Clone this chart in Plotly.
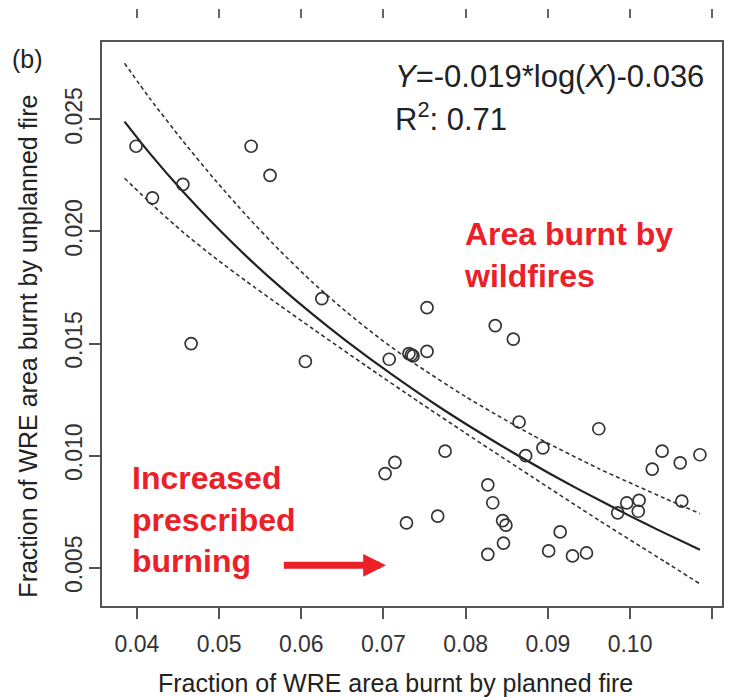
import plotly.graph_objects as go

# ---- data ----
obs_x = [0.0399, 0.0419, 0.0456, 0.0466, 0.0539, 0.0562, 0.0605, 0.0625, 0.0702, 0.0707,
         0.0714, 0.0728, 0.0731, 0.0734, 0.0736, 0.0753, 0.0753, 0.0766, 0.0775, 0.0827,
         0.0827, 0.0833, 0.0836, 0.0845, 0.0846, 0.0849, 0.0858, 0.0865, 0.0873, 0.0894,
         0.0901, 0.0915, 0.0930, 0.0947, 0.0962, 0.0985, 0.0996, 0.1010, 0.1011, 0.1027,
         0.1039, 0.1061, 0.1063, 0.1085]
obs_y = [0.0238, 0.0215, 0.0221, 0.0150, 0.0238, 0.0225, 0.0142, 0.0170, 0.0092, 0.0143,
         0.0097, 0.0070, 0.01455, 0.0145, 0.01445, 0.01465, 0.0166, 0.0073, 0.0102, 0.0087,
         0.0056, 0.0079, 0.0158, 0.0071, 0.0061, 0.0069, 0.0152, 0.0115, 0.0100, 0.01035,
         0.00575, 0.0066, 0.00553, 0.00566, 0.0112, 0.00745, 0.00789, 0.00752, 0.00801, 0.0094,
         0.0102, 0.00968, 0.00797, 0.01004]

fit_x = [0.0385, 0.0416, 0.0456, 0.0491, 0.0533, 0.0574, 0.0614, 0.0655, 0.0711, 0.0768,
         0.0840, 0.0901, 0.0941, 0.1002, 0.1034, 0.1085]
fit_y = [0.0249, 0.02347, 0.02178, 0.02042, 0.0189, 0.01754, 0.0163, 0.01511, 0.0136, 0.01217,
         0.01052, 0.00923, 0.00843, 0.00727, 0.00669, 0.0058]

upper_x = [0.0385, 0.0416, 0.0456, 0.0495, 0.0535, 0.0574, 0.0614, 0.0655, 0.0695, 0.0735,
           0.0800, 0.0881, 0.0962, 0.1042, 0.1085]
upper_y = [0.0275, 0.02592, 0.02403, 0.0223, 0.02064, 0.01914, 0.01772, 0.01641, 0.01524, 0.01418,
           0.01263, 0.01092, 0.00942, 0.0081, 0.00742]

lower_x = [0.0385, 0.0420, 0.0455, 0.0494, 0.0533, 0.0574, 0.0614, 0.0679, 0.0743, 0.0800,
           0.0881, 0.0962, 0.1042, 0.1085]
lower_y = [0.02237, 0.02115, 0.0200, 0.01885, 0.01778, 0.0167, 0.01566, 0.0140, 0.0124, 0.0110,
           0.00905, 0.00712, 0.00528, 0.00428]

x_ticks = [0.04, 0.05, 0.06, 0.07, 0.08, 0.09, 0.10, 0.11]
x_ticktext = ["0.04", "0.05", "0.06", "0.07", "0.08", "0.09", "0.10", "0.11"]
y_ticks = [0.005, 0.010, 0.015, 0.020, 0.025]
y_ticktext = ["0.005", "0.010", "0.015", "0.020", "0.025"]

arrow_tail = (0.0577, 0.00511)
arrow_tip = (0.0703, 0.00511)

FONT = "Liberation Sans, Arial, sans-serif"
RED = "#ea2128"
AX = "#555555"

fig = go.Figure()
dash = "4px,3px"
fig.add_trace(go.Scatter(x=upper_x, y=upper_y, mode="lines", line=dict(color="#333", width=1.6, dash=dash, shape="spline", smoothing=0.6), hoverinfo="skip"))
fig.add_trace(go.Scatter(x=lower_x, y=lower_y, mode="lines", line=dict(color="#333", width=1.6, dash=dash, shape="spline", smoothing=0.6), hoverinfo="skip"))
fig.add_trace(go.Scatter(x=fit_x, y=fit_y, mode="lines", line=dict(color="#222", width=2.2, shape="spline", smoothing=0.6), hoverinfo="skip"))
fig.add_trace(go.Scatter(x=obs_x, y=obs_y, mode="markers",
                         marker=dict(symbol="circle-open", size=12, color="#333", line=dict(width=1.7))))
# invisible trace so the top (partial) tick row is drawn
fig.add_trace(go.Scatter(x=[x_ticks[0]], y=[y_ticks[0]], xaxis="x2", mode="markers", marker=dict(opacity=0), hoverinfo="skip"))

x_range = [0.035758, 0.111188]
y_range = [0.003295, 0.028446]

fig.update_layout(
    width=732, height=697,
    margin=dict(l=101.7, r=8, t=18.3, b=91.3),
    paper_bgcolor="white", plot_bgcolor="white",
    showlegend=False,
    font=dict(family=FONT, color="#333"),
    xaxis=dict(range=x_range, tickvals=x_ticks, ticktext=x_ticktext, ticks="outside", ticklen=11,
               tickwidth=1.5, tickcolor=AX, showline=True, linecolor=AX, linewidth=1.5, mirror=True,
               showgrid=False, zeroline=False, tickfont=dict(size=23, color="#333"), anchor="y",
               ticklabelstandoff=6),
    xaxis2=dict(range=x_range, tickvals=x_ticks, overlaying="x", side="top", anchor="free", position=1,
                ticks="outside", ticklen=9, tickwidth=1.5, tickcolor="#666", showline=False,
                showticklabels=False, showgrid=False, zeroline=False),
    yaxis=dict(range=y_range, domain=[0, 0.9591], tickvals=y_ticks, ticktext=y_ticktext, ticks="outside",
               ticklen=11, tickwidth=1.5, tickcolor=AX, showline=True, linecolor=AX, linewidth=1.5,
               mirror=True, showgrid=False, zeroline=False, tickangle=-90,
               tickfont=dict(size=23, color="#333"), ticklabelstandoff=-2),
)

ann = [
    dict(text="Fraction of WRE area burnt by planned fire", x=0.474, y=-0.1316, xref="paper", yref="paper",
         showarrow=False, font=dict(size=25, color="#222"), xanchor="center", yanchor="middle"),
    dict(text="Fraction of WRE area burnt by unplanned fire", x=-0.12, y=(605.7 - 346) / 587.4,
         xref="paper", yref="paper",
         showarrow=False, textangle=-90, font=dict(size=25, color="#222"), xanchor="center", yanchor="middle"),
    dict(text="(b)", x=(27 - 101.7) / 622.3, y=(605.7 - 59) / 587.4, xref="paper", yref="paper",
         showarrow=False, font=dict(size=25, color="#222"), xanchor="center", yanchor="middle"),
    dict(text="<i>Y</i>=-0.019*log(<i>X</i>)-0.036", x=(394 - 101.7) / 622.3, y=(605.7 - 77) / 587.4,
         xref="paper", yref="paper", showarrow=False, font=dict(size=31, color="#222"),
         xanchor="left", yanchor="middle"),
    dict(text="R<sup>2</sup>: 0.71", x=(394 - 101.7) / 622.3, y=(605.7 - 117) / 587.4,
         xref="paper", yref="paper", showarrow=False, font=dict(size=31, color="#222"),
         xanchor="left", yanchor="middle"),
    dict(text="<b>Area burnt by<br>wildfires</b>", x=(463 - 101.7) / 622.3, y=(605.7 - 255.5) / 587.4,
         xref="paper", yref="paper", showarrow=False, align="left", font=dict(size=32, color=RED),
         xanchor="left", yanchor="middle"),
    dict(text="<b>Increased<br>prescribed<br>burning</b>", x=(130 - 101.7) / 622.3, y=(605.7 - 519) / 587.4,
         xref="paper", yref="paper", showarrow=False, align="left", font=dict(size=32, color=RED),
         xanchor="left", yanchor="middle"),
    dict(text="", x=arrow_tip[0], y=arrow_tip[1], ax=arrow_tail[0], ay=arrow_tail[1],
         xref="x", yref="y", axref="x", ayref="y", showarrow=True, arrowhead=2,
         arrowwidth=7, arrowsize=0.65, arrowcolor=RED),
]
fig.update_layout(annotations=ann)

fig.write_html("out.html")
